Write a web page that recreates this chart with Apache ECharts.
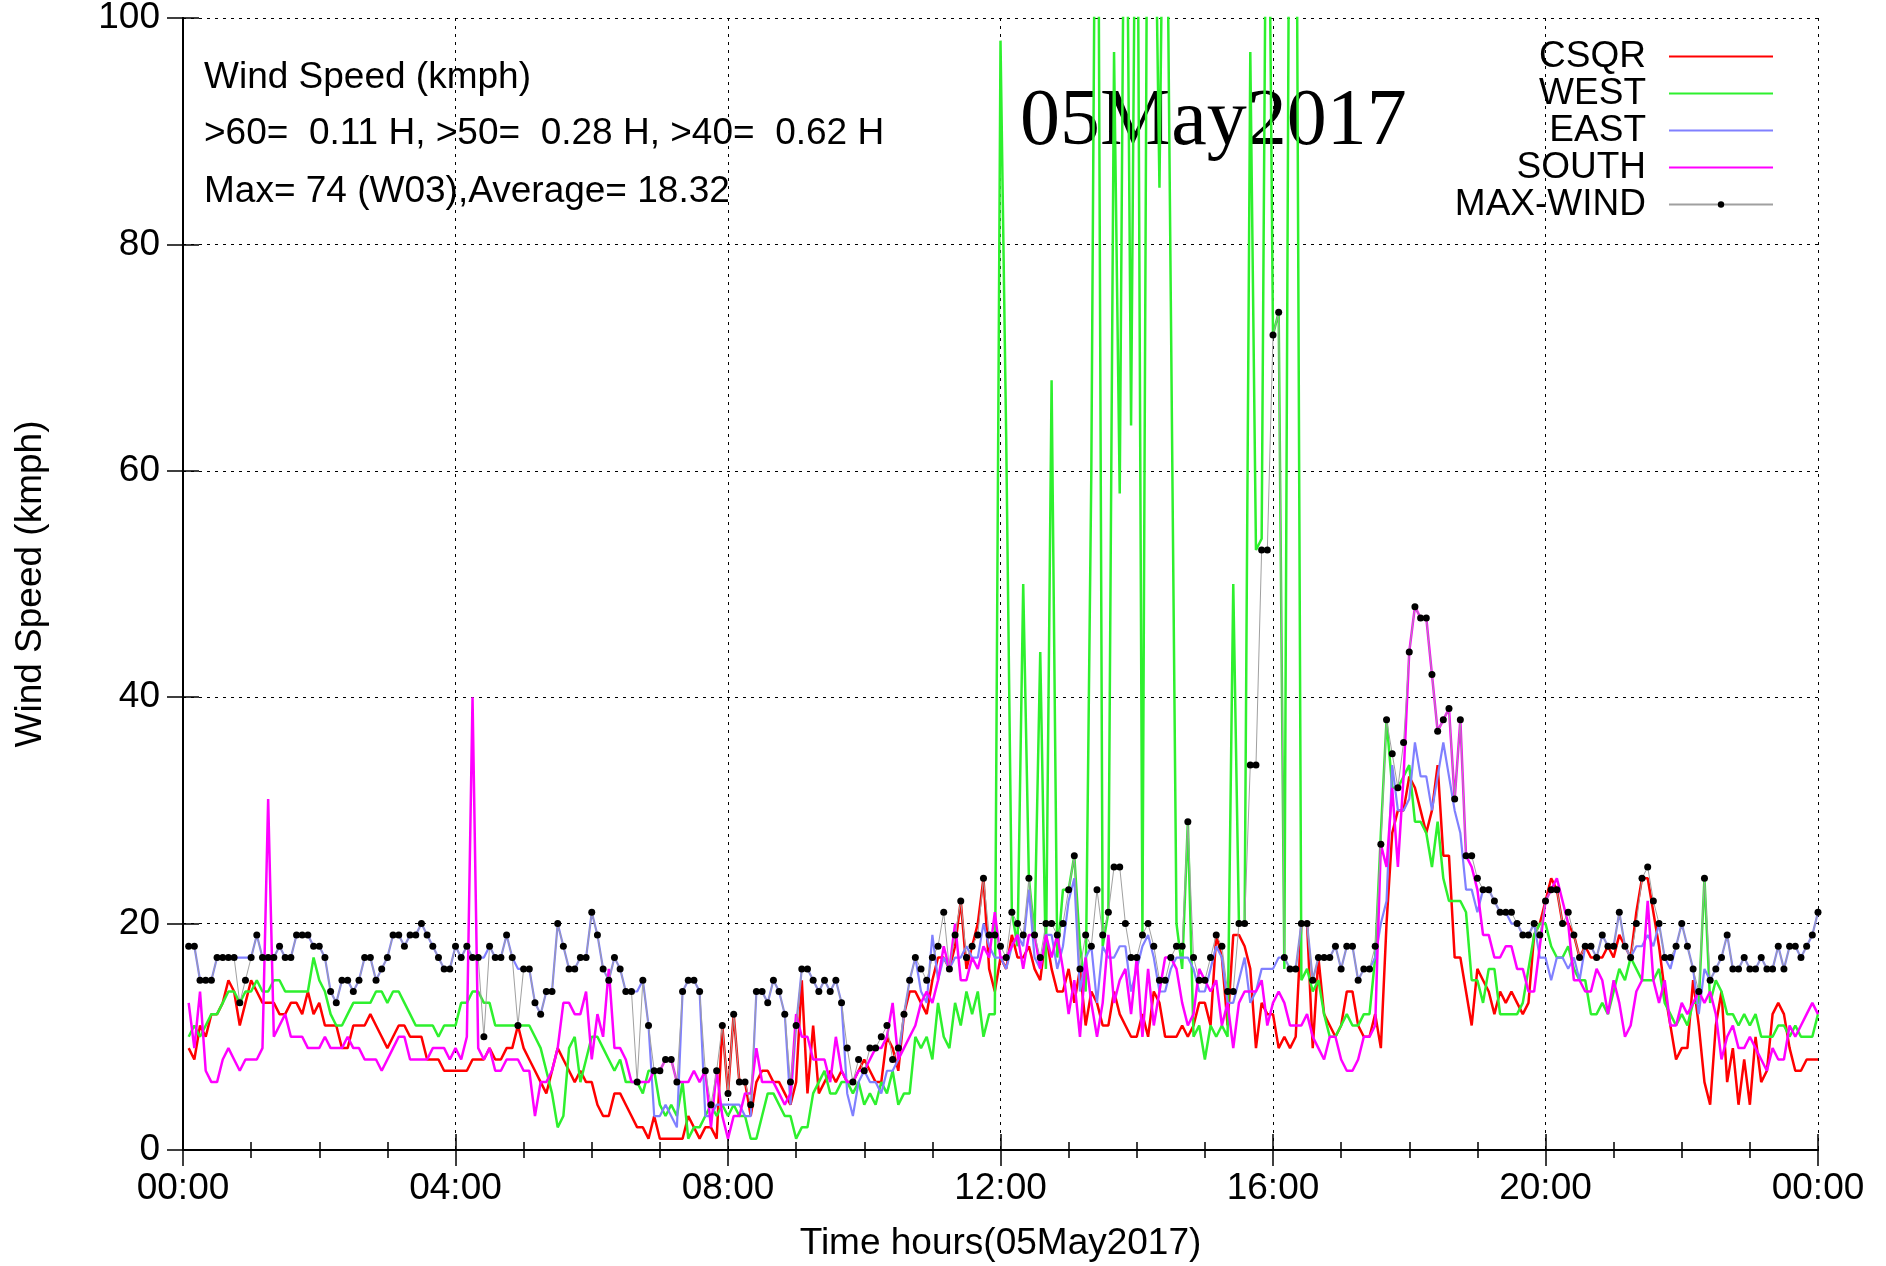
<!DOCTYPE html>
<html>
<head>
<meta charset="utf-8">
<title>Wind Speed 05May2017</title>
<script src="https://cdn.jsdelivr.net/npm/echarts@6/dist/echarts.min.js"></script>
<style>
  html, body { margin: 0; padding: 0; background: #fff; }
  #chart { width: 1886px; height: 1266px; }
</style>
</head>
<body>
<div id="chart"></div>
<script>
// 5 minute samples, 00:05 .. 24:00 (one row = 2 hours)
const csqr = [
  9,8,11,10,12,12,13,15,14,11,13,15,14,13,13,13,12,12,13,13,12,14,12,
  13,11,11,11,9,9,11,11,11,12,11,10,9,10,11,11,10,10,10,8,8,8,7,7,
  7,7,7,8,8,8,9,8,8,9,9,11,9,8,7,6,5,7,9,8,7,6,7,6,
  6,4,3,3,5,5,4,3,2,2,1,3,1,1,1,1,1,3,2,1,2,2,1,11,
  5,12,6,6,3,6,7,7,6,6,5,4,6,15,5,11,5,6,7,6,7,6,6,7,
  8,7,6,6,10,9,7,12,14,14,13,12,15,17,17,16,18,22,16,18,20,24,16,14,
  17,16,19,17,17,18,16,15,19,16,14,14,16,13,16,11,14,13,11,11,14,12,11,10,
  10,12,10,14,13,10,10,10,11,10,11,13,13,11,19,17,11,19,19,18,16,9,13,12,
  12,9,10,9,10,20,20,9,17,12,11,10,11,14,14,11,10,10,12,9,20,28,30,30,
  33,32,30,28,30,34,26,26,17,17,14,11,16,15,14,12,14,13,14,13,12,13,19,20,
  22,24,23,20,20,19,17,18,17,17,17,18,17,19,18,17,21,24,24,21,18,14,11,8,
  9,9,15,11,6,4,11,14,6,9,4,8,4,10,6,7,12,13,12,9,7,7,8,8,8
];
const west = [
  10,11,10,11,12,12,13,14,14,13,14,14,15,14,14,15,15,14,14,14,14,14,17,
  15,14,12,11,11,12,13,13,13,13,14,14,13,14,14,13,12,11,11,11,11,10,11,11,
  11,13,13,14,14,13,13,11,11,11,11,11,11,11,10,9,7,5,2,3,9,10,6,8,
  10,10,9,8,7,8,6,6,6,5,7,7,4,3,4,3,6,1,2,2,3,4,3,4,
  3,4,3,3,1,1,3,5,5,4,3,3,1,2,2,5,6,7,5,5,6,6,5,6,
  4,5,4,6,5,7,4,5,5,10,9,10,8,13,10,9,13,11,14,12,14,10,12,12,
  98,63,21,18,50,24,19,44,16,68,17,23,23,26,18,14,60,140,18,21,97,58,130,64,
  130,19,130,120,85,130,75,20,16,29,10,11,8,11,10,11,10,50,20,20,97,53,54,130,
  72,74,16,130,130,15,16,14,15,12,10,10,11,12,11,11,12,12,17,28,38,32,32,33,
  34,29,29,28,25,29,24,22,22,22,21,15,15,13,16,16,12,12,12,12,13,16,19,20,
  20,18,17,17,18,16,15,15,12,12,13,12,14,16,15,17,16,15,15,15,16,13,12,11,
  12,11,13,13,24,13,15,14,12,12,11,12,11,12,10,10,10,11,11,10,11,10,10,10,12
];
const east = [
  18,18,15,15,15,17,17,17,17,17,17,17,19,17,17,17,18,17,17,19,19,19,18,
  18,17,14,13,15,15,14,15,17,17,15,16,17,19,19,18,19,19,20,19,18,17,16,16,
  18,17,18,17,17,17,18,17,17,19,17,16,16,16,13,12,14,14,20,18,16,16,17,17,
  21,19,16,15,17,16,14,14,14,15,11,3,3,4,3,2,14,15,15,14,3,3,4,4,
  4,4,4,3,3,14,14,13,15,14,12,4,11,16,16,15,14,15,14,15,13,5,3,6,
  7,6,6,5,7,7,8,12,15,17,14,13,19,15,17,16,17,17,18,17,17,20,18,17,
  17,16,18,19,18,23,17,16,19,19,16,18,22,24,14,17,18,13,18,17,17,18,18,14,
  16,18,19,17,14,14,16,17,17,17,16,14,14,16,18,17,13,13,15,17,13,14,16,16,
  16,17,17,16,16,20,20,15,17,17,17,18,16,18,18,15,16,16,17,20,22,34,30,30,
  31,36,33,33,30,33,36,33,30,28,23,23,21,23,23,22,21,21,20,20,19,19,20,17,
  17,15,17,17,16,17,15,18,18,17,19,18,18,21,18,17,18,18,19,18,20,17,16,18,
  20,18,16,12,16,15,16,17,19,16,16,17,16,16,17,16,16,18,16,18,18,17,18,19,21
];
const south = [
  13,9,14,7,6,6,8,9,8,7,8,8,8,9,31,10,11,12,10,10,10,9,9,
  9,10,9,9,9,10,9,9,8,8,8,7,8,9,10,10,8,8,8,8,9,9,9,8,
  9,8,10,40,9,8,9,7,7,8,8,8,7,7,3,6,6,7,9,13,13,12,12,14,
  8,12,10,16,9,9,8,6,6,6,6,7,7,8,8,6,6,6,7,6,7,2,7,3,
  1,3,3,5,5,9,6,6,6,5,4,5,12,10,10,8,8,8,6,10,7,6,6,7,
  7,8,9,9,10,13,8,9,10,11,13,14,13,15,18,16,20,15,15,17,16,18,17,21,
  17,17,18,19,16,19,19,16,19,17,19,16,12,15,10,17,13,10,13,19,13,15,16,12,
  17,10,16,11,14,17,17,16,13,11,12,16,15,14,15,11,13,9,13,14,14,14,15,11,
  13,14,13,11,11,11,12,10,9,8,10,10,8,7,7,8,10,10,11,27,25,32,25,33,
  44,48,47,47,42,37,38,39,31,38,26,25,23,19,19,17,17,18,18,16,16,14,14,18,
  22,23,24,22,20,15,15,14,14,16,15,12,15,13,10,11,14,15,22,15,13,15,11,11,
  13,12,13,14,13,14,12,8,10,11,9,9,10,9,8,7,9,8,8,11,10,11,12,13,12
];
const maxWind = [
  18,18,15,15,15,17,17,17,17,13,15,17,19,17,17,17,18,17,17,19,19,19,18,
  18,17,14,13,15,15,14,15,17,17,15,16,17,19,19,18,19,19,20,19,18,17,16,16,
  18,17,18,17,17,10,18,17,17,19,17,11,16,16,13,12,14,14,20,18,16,16,17,17,
  21,19,16,15,17,16,14,14,6,15,11,7,7,8,8,6,14,15,15,14,7,4,7,11,
  5,12,6,6,4,14,14,13,15,14,12,6,11,16,16,15,14,15,14,15,13,9,6,8,
  7,9,9,10,11,8,9,12,15,17,16,15,17,18,21,16,19,22,17,18,19,24,19,19,
  18,17,21,20,19,24,19,17,20,20,19,20,23,26,16,19,18,23,19,21,25,25,20,17,
  17,19,20,18,15,15,17,18,18,29,17,15,15,17,19,18,14,14,20,20,34,34,53,53,
  72,74,17,16,16,20,20,15,17,17,17,18,16,18,18,15,16,16,18,27,38,35,32,36,
  44,48,47,47,42,37,38,39,31,38,26,26,24,23,23,22,21,21,21,20,19,19,20,19,
  22,23,23,20,21,19,17,18,18,17,19,18,18,21,18,17,20,24,25,22,20,17,17,18,
  20,18,16,14,24,15,16,17,19,16,16,17,16,16,17,16,16,18,16,18,18,17,18,19,21
];

const minutes = [];
for (let m = 5; m <= 1440; m += 5) minutes.push(m);

const infoLines = [
  'Wind Speed (kmph)',
  '>60=  0.11 H, >50=  0.28 H, >40=  0.62 H',
  'Max= 74 (W03),Average= 18.32'
];
const dayLabel = '05May2017';

const FONT = "'Liberation Sans', Arial, sans-serif";

function pairs(vals) {
  return minutes.map((m, i) => [m, vals[i]]);
}

function hhmm(v) {
  const h = Math.floor(v / 60) % 24;
  return (h < 10 ? '0' : '') + h + ':00';
}

const chart = echarts.init(document.getElementById('chart'));

const tickStyle = { inside: true, length: 16, lineStyle: { color: '#000', width: 1.5 } };
const minorStyle = { show: true, splitNumber: 4, length: 8, lineStyle: { color: '#000', width: 1.5 } };
const borderLine = { show: true, lineStyle: { color: '#000', width: 2 } };
const gridLine = { show: true, lineStyle: { color: '#000', width: 1, type: [3, 5] } };

// plain line icons in the key, only MAX-WIND carries its dot
const hideDot = { opacity: 0 };

const option = {
  backgroundColor: '#fff',
  animation: false,
  textStyle: { fontFamily: FONT },
  grid: { left: 183, right: 68, top: 18, bottom: 116, outerBoundsMode: 'none' },
  legend: {
    orient: 'vertical',
    right: 107,
    top: 33,
    align: 'right',
    itemWidth: 104,
    itemHeight: 8,
    itemGap: 0,
    selectedMode: false,
    data: [
      { name: 'CSQR', itemStyle: hideDot },
      { name: 'WEST', itemStyle: hideDot },
      { name: 'EAST', itemStyle: hideDot },
      { name: 'SOUTH', itemStyle: hideDot },
      { name: 'MAX-WIND' }
    ],
    textStyle: { fontFamily: FONT, fontSize: 37, lineHeight: 37, color: '#000', padding: [0, 18, 0, 0] }
  },
  xAxis: [{
    type: 'value',
    min: 0, max: 1440, interval: 240,
    name: 'Time hours(05May2017)',
    nameLocation: 'middle',
    nameGap: 75,
    nameTextStyle: { fontFamily: FONT, fontSize: 37, color: '#000' },
    axisLine: borderLine,
    axisTick: tickStyle,
    minorTick: minorStyle,
    splitLine: gridLine,
    axisLabel: { formatter: hhmm, fontFamily: FONT, fontSize: 37, color: '#000', margin: 20 }
  }, {
    type: 'value', position: 'top',
    min: 0, max: 1440, interval: 240,
    axisLine: borderLine,
    axisTick: tickStyle,
    minorTick: minorStyle,
    splitLine: { show: false },
    axisLabel: { show: false }
  }],
  yAxis: [{
    type: 'value',
    min: 0, max: 100, interval: 20,
    name: 'Wind Speed (kmph)',
    nameLocation: 'middle',
    nameGap: 134,
    nameTextStyle: { fontFamily: FONT, fontSize: 37, color: '#000' },
    axisLine: borderLine,
    axisTick: tickStyle,
    splitLine: gridLine,
    axisLabel: { fontFamily: FONT, fontSize: 37, color: '#000', margin: 23 }
  }, {
    type: 'value', position: 'right',
    min: 0, max: 100, interval: 20,
    axisLine: borderLine,
    axisTick: tickStyle,
    splitLine: { show: false },
    axisLabel: { show: false }
  }],
  series: [
    { name: 'CSQR', type: 'line', data: pairs(csqr), symbol: 'none', silent: true,
      lineStyle: { color: '#ff0000', width: 2.5 }, itemStyle: { color: '#ff0000' } },
    { name: 'WEST', type: 'line', data: pairs(west), symbol: 'none', silent: true,
      lineStyle: { color: '#2ef02e', width: 2.5 }, itemStyle: { color: '#2ef02e' } },
    { name: 'EAST', type: 'line', data: pairs(east), symbol: 'none', silent: true,
      lineStyle: { color: '#8080ff', width: 2.2 }, itemStyle: { color: '#8080ff' } },
    { name: 'SOUTH', type: 'line', data: pairs(south), symbol: 'none', silent: true,
      lineStyle: { color: '#ff00ff', width: 2.5 }, itemStyle: { color: '#ff00ff' } },
    { name: 'MAX-WIND', type: 'line', data: pairs(maxWind), symbol: 'circle', symbolSize: 7,
      showSymbol: true, silent: true,
      lineStyle: { color: '#a0a0a0', width: 1 }, itemStyle: { color: '#000' } }
  ],
  graphic: [
    { type: 'text', left: 204, top: 59, style: { text: infoLines[0], font: '37px ' + FONT, fill: '#000' } },
    { type: 'text', left: 204, top: 115, style: { text: infoLines[1], font: '37px ' + FONT, fill: '#000' } },
    { type: 'text', left: 204, top: 173, style: { text: infoLines[2], font: '37px ' + FONT, fill: '#000' } },
    { type: 'text', left: 1020, top: 83, style: { text: dayLabel, font: "80px 'Liberation Serif', 'Times New Roman', serif", fill: '#000' } }
  ]
};

chart.setOption(option);
</script>
</body>
</html>
